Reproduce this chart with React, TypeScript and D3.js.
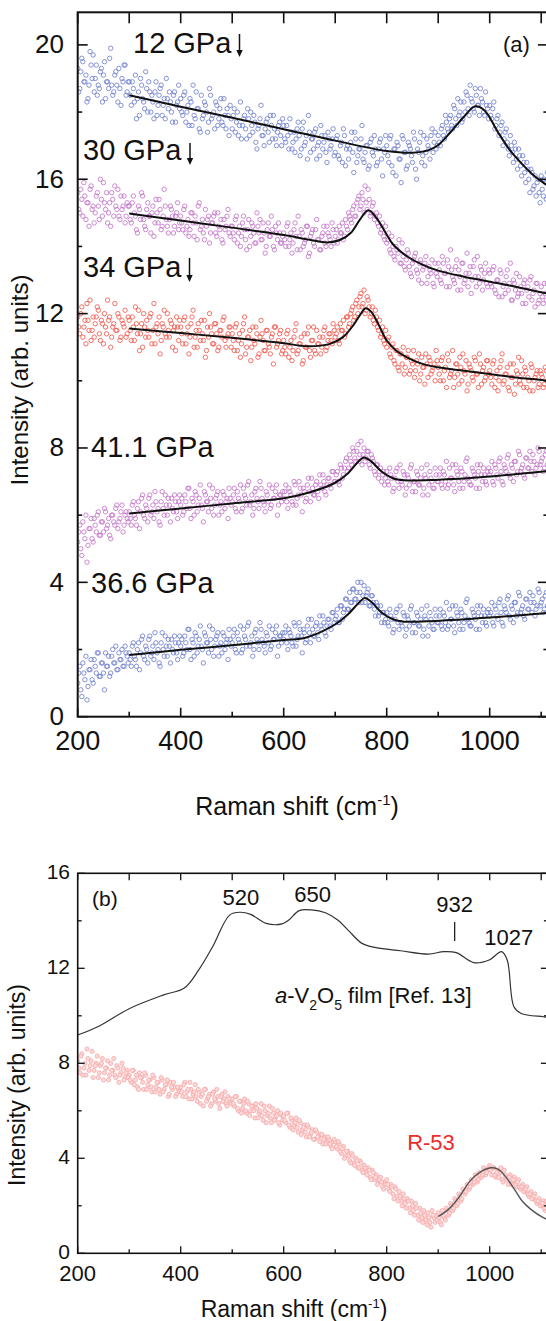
import React from "react";
import * as d3 from "d3";

// ---------- DATA ----------
// Raman shift channels (cm^-1), two interleaved read-outs
const ramanShift = [
  200,204,208,212,216,220,224,228,232,236,240,244,248,252,256,260,264,268,272,276,280,284,288,292,296,
  300,304,308,312,316,320,324,328,332,336,340,344,348,352,356,360,364,368,372,376,380,384,388,392,396,
  400,404,408,412,416,420,424,428,432,436,440,444,448,452,456,460,464,468,472,476,480,484,488,492,496,
  500,504,508,512,516,520,524,528,532,536,540,544,548,552,556,560,564,568,572,576,580,584,588,592,596,
  600,604,608,612,616,620,624,628,632,636,640,644,648,652,656,660,664,668,672,676,680,684,688,692,696,
  700,704,708,712,716,720,724,728,732,736,740,744,748,752,756,760,764,768,772,776,780,784,788,792,796,
  800,804,808,812,816,820,824,828,832,836,840,844,848,852,856,860,864,868,872,876,880,884,888,892,896,
  900,904,908,912,916,920,924,928,932,936,940,944,948,952,956,960,964,968,972,976,980,984,988,992,996,
  1000,1004,1008,1012,1016,1020,1024,1028,1032,1036,1040,1044,1048,1052,1056,1060,1064,1068,1072,1076,1080,1084,1088,1092,1096,
  1100,1104,1108,1112,
];
const ramanShiftB = [
  202,206,210,214,218,222,226,230,234,238,242,246,250,254,258,262,266,270,274,278,282,286,290,294,298,
  302,306,310,314,318,322,326,330,334,338,342,346,350,354,358,362,366,370,374,378,382,386,390,394,398,
  402,406,410,414,418,422,426,430,434,438,442,446,450,454,458,462,466,470,474,478,482,486,490,494,498,
  502,506,510,514,518,522,526,530,534,538,542,546,550,554,558,562,566,570,574,578,582,586,590,594,598,
  602,606,610,614,618,622,626,630,634,638,642,646,650,654,658,662,666,670,674,678,682,686,690,694,698,
  702,706,710,714,718,722,726,730,734,738,742,746,750,754,758,762,766,770,774,778,782,786,790,794,798,
  802,806,810,814,818,822,826,830,834,838,842,846,850,854,858,862,866,870,874,878,882,886,890,894,898,
  902,906,910,914,918,922,926,930,934,938,942,946,950,954,958,962,966,970,974,978,982,986,990,994,998,
  1002,1006,1010,1014,1018,1022,1026,1030,1034,1038,1042,1046,1050,1054,1058,1062,1066,1070,1074,1078,1082,1086,1090,1094,1098,
  1102,1106,1110,
];

const int12GPa = [
  19.3,18.7,19.6,18.9,19.1,18.4,19.8,19.0,18.6,19.4,18.8,19.2,18.3,19.5,18.9,18.7,19.9,18.5,19.1,18.8,19.3,18.2,18.9,19.4,18.6,
  18.9,18.2,18.7,19.1,18.4,17.9,18.8,18.3,19.2,18.0,18.6,18.5,17.8,18.9,18.2,18.7,17.9,18.4,19.0,18.1,18.3,17.7,18.6,18.2,18.8,
  18.4,17.9,18.6,18.0,17.6,18.3,18.8,17.8,18.1,17.5,18.5,17.9,18.2,17.4,18.7,17.8,18.0,18.3,17.6,18.1,17.7,18.4,17.5,17.9,18.2,
  17.5,18.1,17.7,17.3,18.3,17.6,17.9,17.2,17.8,18.0,17.4,17.7,16.9,17.6,18.2,17.3,17.5,17.8,17.1,17.6,17.9,17.2,17.4,17.7,17.0,
  17.6,17.1,17.3,17.8,16.9,17.4,17.2,17.7,16.7,17.5,17.0,17.3,17.9,16.8,17.2,17.4,16.6,17.1,17.6,16.9,17.3,16.5,17.2,17.0,17.5,
  16.8,17.3,16.6,17.1,17.5,16.4,17.0,16.9,17.4,16.2,17.2,16.7,16.9,17.6,16.5,17.0,16.3,17.1,16.8,17.3,16.4,16.9,17.2,16.1,16.8,
  17.0,16.5,17.3,16.2,16.9,17.1,16.6,15.9,17.2,16.8,16.4,17.0,16.7,17.4,16.3,16.9,17.1,16.5,17.3,16.8,17.0,16.6,17.5,17.1,16.9,
  17.3,17.0,17.6,17.2,17.7,17.4,17.9,17.5,18.1,17.6,17.9,18.3,17.8,18.0,18.5,17.9,18.4,18.1,18.7,18.2,17.9,18.4,18.0,18.6,18.1,
  18.2,17.8,18.3,17.6,17.9,17.4,17.7,17.2,17.5,16.9,17.3,16.8,17.1,16.6,16.9,16.4,16.7,16.2,16.5,16.0,16.3,15.7,16.1,15.9,15.6,
  16.1,15.5,15.9,16.2,
];
const int12GPaB = [
  18.6,19.2,19.5,18.9,18.3,18.8,19.4,19.7,19.0,18.5,18.7,19.3,19.1,18.4,18.9,19.6,18.8,18.6,19.2,18.3,18.7,19.0,19.4,18.5,18.9,
  18.5,18.9,18.3,17.8,18.6,19.0,18.4,18.1,18.7,18.9,18.0,18.3,18.6,17.9,18.5,18.8,18.2,17.8,18.4,18.6,18.0,18.5,17.7,18.3,18.1,
  18.0,18.5,17.7,18.2,18.4,17.6,17.9,18.6,18.1,17.4,17.8,18.3,18.0,17.7,18.5,17.9,17.5,18.2,17.8,18.4,17.6,17.9,18.1,17.3,17.8,
  17.9,17.4,18.0,17.6,17.2,17.8,17.5,18.1,17.3,17.6,17.9,17.1,17.5,17.8,17.3,17.0,17.7,17.4,17.9,17.2,17.5,17.0,17.6,17.3,17.8,
  17.2,17.6,16.9,17.4,17.1,16.8,17.5,17.3,16.9,17.7,17.1,16.6,17.4,17.2,16.9,17.5,17.0,16.7,17.3,17.1,16.8,17.4,16.9,17.2,16.7,
  17.2,16.7,17.0,16.5,17.3,16.9,16.6,17.1,16.8,17.4,16.5,16.9,17.2,16.6,16.8,17.0,16.4,17.2,16.7,16.9,16.5,17.1,16.6,16.9,17.3,
  16.7,17.2,16.4,16.9,16.1,17.0,16.6,17.3,16.8,16.3,17.1,16.9,16.5,17.2,16.0,16.8,17.4,16.7,16.4,17.2,16.9,17.3,16.8,17.4,17.0,
  17.1,17.5,17.3,17.9,17.5,17.8,17.6,18.2,17.8,18.4,18.0,17.7,18.3,18.6,18.1,18.8,18.3,18.0,18.5,18.2,18.7,18.3,17.9,18.2,17.8,
  17.9,18.1,17.5,17.8,17.3,17.6,17.0,17.4,17.1,16.7,17.0,16.5,16.9,16.3,16.7,16.1,16.5,15.9,16.3,15.6,16.2,15.8,15.5,16.0,15.3,
  15.7,16.0,15.4,
];

const int30GPa = [
  15.6,15.0,15.4,15.9,14.8,15.3,15.7,15.1,14.7,15.5,15.2,16.0,14.9,15.3,15.6,15.0,14.6,15.4,15.8,15.1,14.9,15.5,15.2,14.7,15.3,
  15.2,14.7,15.5,14.9,14.4,15.1,15.6,14.8,14.5,15.3,14.9,15.0,14.3,15.4,14.7,15.1,14.6,15.7,14.8,14.4,15.2,14.9,14.6,15.0,14.5,
  14.9,14.5,15.2,14.6,14.3,15.0,14.7,14.9,14.2,15.3,14.6,14.4,15.1,14.8,14.1,14.7,14.9,14.4,15.0,14.5,14.2,14.8,14.6,15.1,14.3,
  14.6,14.2,14.9,14.4,14.0,14.7,14.5,13.9,14.8,14.3,14.6,14.1,15.0,14.4,14.2,14.7,13.8,14.5,14.3,14.9,14.0,14.6,14.2,14.4,14.1,
  14.4,14.0,14.7,14.2,13.8,14.5,14.3,14.9,13.9,14.4,14.1,14.6,13.7,14.3,14.5,14.0,14.8,14.2,13.9,14.4,14.1,14.6,14.3,14.0,14.5,
  14.3,14.1,14.6,14.4,14.2,14.8,14.5,14.9,14.7,15.2,14.9,15.4,15.1,15.6,15.0,15.3,15.7,14.9,15.2,14.8,15.0,14.6,14.4,14.7,14.2,
  14.1,14.4,13.8,14.0,13.6,13.9,14.2,13.5,13.7,13.3,13.9,13.4,13.1,13.6,13.8,13.2,13.5,12.9,13.4,13.7,13.1,13.3,13.6,12.8,13.2,
  13.5,13.0,13.7,13.2,12.8,13.4,13.9,13.1,12.9,13.6,13.3,12.7,13.5,13.0,13.8,13.2,12.6,13.4,13.1,13.7,12.9,13.3,13.0,13.5,12.8,
  13.2,12.8,13.4,12.6,13.0,13.3,12.5,12.9,13.1,12.7,13.5,12.4,12.9,13.2,12.6,12.8,12.3,13.0,12.7,12.5,13.1,12.6,12.2,12.9,12.4,
  12.8,12.3,12.6,12.9,
];
const int30GPaB = [
  15.1,15.7,14.9,15.5,15.3,14.6,15.8,15.2,15.0,15.6,14.8,15.4,15.9,15.1,14.7,15.3,15.6,14.9,15.2,15.7,14.8,15.1,15.5,14.9,15.2,
  14.8,15.3,15.0,14.5,15.2,14.8,15.5,14.6,15.1,14.9,14.4,15.2,14.7,15.0,15.4,14.5,14.9,15.2,14.6,14.8,15.1,14.4,14.9,15.3,14.7,
  14.7,15.1,14.4,14.8,14.5,15.0,14.3,14.7,15.2,14.5,14.8,14.2,14.6,14.9,14.4,14.7,15.0,14.3,14.6,14.8,14.1,14.5,14.9,14.4,14.6,
  14.4,14.8,14.1,14.6,14.3,14.9,14.2,14.5,14.0,14.7,14.4,14.1,14.6,14.8,14.2,14.4,14.0,14.7,14.3,14.5,13.9,14.4,14.7,14.1,14.3,
  14.2,14.6,14.0,14.4,14.1,14.7,13.9,14.3,14.5,14.0,14.2,14.6,13.8,14.4,14.1,14.5,14.2,13.9,14.3,14.6,14.0,14.4,14.2,14.7,14.1,
  14.5,14.2,14.4,14.7,14.3,14.6,15.0,14.8,15.1,14.9,15.3,15.5,15.2,15.4,15.8,15.1,15.4,15.0,15.3,14.9,14.7,14.9,14.5,14.3,14.6,
  14.2,13.9,14.3,13.7,14.0,13.8,13.5,14.1,13.4,13.6,13.8,13.2,13.5,13.7,13.3,13.0,13.6,13.3,13.5,12.9,13.4,13.2,12.9,13.5,13.1,
  13.3,12.9,13.5,13.2,13.6,12.8,13.3,13.0,13.4,12.7,13.1,13.5,12.9,13.2,12.8,13.4,13.0,13.6,12.8,13.1,13.4,12.7,13.2,12.9,13.3,
  12.9,13.3,12.7,13.0,12.5,13.2,12.8,12.6,13.3,12.9,12.4,13.0,12.7,12.5,13.1,12.6,12.9,12.3,12.8,13.0,12.4,12.7,12.9,12.3,12.6,
  12.5,12.9,12.4,
];

const int34GPa = [
  11.9,11.4,12.2,11.6,11.1,11.8,12.4,11.5,11.3,11.9,12.1,11.2,11.7,12.0,11.4,11.8,11.0,11.6,12.3,11.5,11.9,11.3,11.7,12.1,11.4,
  11.8,11.2,11.6,12.2,11.4,10.9,11.7,12.0,11.3,11.5,11.9,11.1,12.3,11.6,11.4,10.8,11.7,12.1,11.3,11.5,11.8,11.0,11.6,11.9,11.2,
  11.6,11.1,11.9,11.4,10.8,11.7,12.1,11.3,11.0,11.5,11.8,11.2,10.7,11.6,12.0,11.4,11.1,11.7,10.9,11.5,11.3,11.9,11.0,11.4,11.6,
  11.4,10.9,11.7,11.2,10.7,11.5,11.9,11.0,11.3,10.6,11.6,11.1,11.4,10.8,11.8,11.2,10.9,11.5,11.0,11.3,10.5,11.6,11.1,11.4,10.8,
  11.2,10.8,11.5,11.0,10.6,11.3,11.7,10.9,11.1,10.5,11.4,11.0,11.6,10.7,11.2,10.9,11.5,11.1,10.8,11.3,11.6,11.0,11.4,11.2,11.7,
  11.3,11.6,11.1,11.5,11.8,11.4,11.9,11.7,12.1,11.8,12.3,12.0,12.5,12.2,12.7,12.1,12.4,11.9,12.2,11.7,11.9,11.5,11.3,11.6,11.1,
  11.0,11.3,10.7,11.1,10.5,10.9,10.3,10.8,11.0,10.4,10.7,10.2,10.6,10.9,10.3,10.5,10.0,10.7,10.4,10.8,10.1,10.6,10.3,10.5,10.9,
  10.4,10.0,10.7,10.3,9.8,10.6,10.2,10.9,10.1,10.5,9.9,10.4,10.8,10.2,9.7,10.5,10.3,10.0,10.6,10.2,10.8,9.9,10.4,10.1,10.6,
  10.3,9.9,10.6,10.1,9.7,10.4,10.8,10.0,10.2,9.8,10.5,10.1,9.6,10.3,10.7,9.9,10.2,10.4,9.8,10.0,10.5,9.7,10.1,10.3,9.9,
  10.2,9.8,10.4,10.0,
];
const int34GPaB = [
  11.6,12.0,11.3,11.8,12.3,11.5,11.2,11.9,11.7,12.2,11.4,11.8,11.1,11.6,12.4,11.9,11.3,11.7,11.5,12.0,11.2,11.8,11.6,11.3,11.9,
  11.5,11.9,11.2,11.7,12.1,11.4,11.0,11.6,11.8,11.3,12.0,11.5,11.1,11.7,11.9,11.2,11.6,11.4,12.0,11.3,11.7,11.5,10.9,11.6,11.8,
  11.4,11.8,11.1,11.6,11.3,11.9,11.0,11.5,11.7,11.2,11.4,11.8,10.9,11.3,11.6,11.1,11.7,11.4,11.0,11.5,11.8,11.2,11.3,11.6,11.0,
  11.2,11.6,10.9,11.4,11.1,11.7,10.8,11.3,11.5,11.0,11.2,11.6,10.7,11.3,11.4,10.9,11.5,11.1,10.8,11.4,11.6,11.0,11.2,11.5,10.9,
  11.0,11.4,10.7,11.2,10.9,11.5,10.8,11.1,11.3,10.6,11.0,11.4,10.9,11.2,11.6,10.8,11.1,11.3,11.0,11.5,10.9,11.2,11.4,11.1,11.5,
  11.4,11.2,11.7,11.5,11.3,11.9,11.6,12.0,12.2,11.9,12.4,12.2,12.6,12.3,12.0,12.5,12.2,12.0,11.8,12.1,11.6,11.8,11.4,11.2,11.5,
  11.2,10.8,11.0,10.6,10.9,10.4,10.8,10.5,10.2,10.7,10.9,10.3,10.5,10.1,10.6,10.8,10.2,10.4,9.9,10.5,10.7,10.2,10.4,10.0,10.6,
  10.2,10.6,10.0,10.4,10.8,10.1,10.3,9.8,10.5,10.2,10.7,10.0,10.3,10.6,9.9,10.4,10.1,10.7,10.2,9.8,10.5,10.3,10.0,10.6,10.2,
  10.1,10.5,9.8,10.3,10.0,10.6,9.9,10.2,10.4,9.7,10.1,10.5,9.9,10.2,10.0,10.6,9.8,10.3,10.1,9.7,10.4,10.0,10.2,9.8,10.3,
  10.1,9.9,10.3,
];

const int41GPa = [
  5.2,5.7,4.8,5.5,6.0,5.1,5.6,5.3,5.9,5.5,6.1,5.4,5.8,6.2,5.6,5.9,5.3,6.0,5.7,6.3,5.8,6.1,5.5,6.0,5.9,
  6.1,5.7,6.4,5.9,6.2,5.6,6.5,6.0,6.3,5.8,6.6,6.1,5.9,6.4,6.2,5.7,6.7,6.0,6.3,6.5,5.8,6.2,6.6,6.1,6.4,
  6.3,6.0,6.6,6.2,6.8,5.9,6.4,6.7,6.1,6.5,6.3,5.8,6.6,6.4,6.9,6.2,6.0,6.5,6.7,6.3,6.1,6.6,6.4,5.9,6.5,
  6.4,6.8,6.1,6.5,6.9,6.2,6.6,6.3,7.0,6.4,6.0,6.7,6.5,6.2,6.8,6.4,6.1,6.6,6.9,6.3,6.5,6.7,6.0,6.6,6.4,
  6.5,6.9,6.2,6.7,6.4,7.0,6.3,6.6,6.8,6.1,6.7,6.5,7.1,6.4,6.8,6.6,7.0,6.5,6.9,7.2,6.7,6.9,7.1,6.8,7.3,
  7.0,7.3,6.9,7.4,7.2,7.6,7.3,7.8,7.5,7.9,7.6,8.1,7.8,7.5,8.0,7.7,7.9,7.4,7.7,7.3,7.5,7.1,7.4,7.2,6.9,
  7.3,6.9,7.2,6.7,7.1,7.4,6.8,7.0,7.3,6.6,7.2,6.9,7.5,7.0,6.7,7.2,6.9,7.4,6.8,7.1,6.6,7.3,7.0,6.8,7.2,
  7.0,7.4,6.8,7.2,7.6,6.9,7.1,7.5,6.7,7.3,7.0,7.4,6.8,7.2,7.7,7.0,6.9,7.3,7.1,7.5,6.8,7.2,7.4,7.0,7.3,
  7.2,7.6,6.9,7.4,7.1,7.7,7.0,7.5,7.3,7.8,7.1,7.4,7.6,7.2,7.9,7.3,7.5,7.1,7.7,7.4,7.6,7.8,7.2,7.5,7.9,
  7.6,7.3,7.8,7.5,
];
const int41GPaB = [
  5.5,5.0,5.8,5.3,4.6,5.6,5.9,5.2,5.7,6.0,5.4,5.8,5.5,6.1,5.7,5.4,6.0,5.8,6.2,5.6,5.9,6.3,5.7,6.1,5.8,
  5.9,6.3,6.0,5.7,6.4,6.1,6.6,5.9,6.2,6.5,6.0,6.3,6.7,6.1,5.8,6.4,6.2,6.6,6.0,6.3,6.5,6.1,6.4,5.9,6.6,
  6.5,6.1,6.4,6.8,6.2,6.5,6.0,6.6,6.3,6.9,6.2,6.7,6.4,6.1,6.5,6.8,6.3,6.6,6.0,6.4,6.7,6.2,6.5,6.8,6.3,
  6.6,6.2,6.7,6.4,6.1,6.8,6.5,6.9,6.3,6.6,6.2,6.8,6.4,7.0,6.5,6.3,6.7,6.4,6.2,6.8,6.5,6.9,6.3,6.6,6.7,
  6.7,6.4,6.8,6.6,6.3,6.9,6.5,7.0,6.6,6.8,6.4,6.9,6.7,7.1,6.6,6.9,6.7,7.2,6.8,7.0,6.6,7.1,6.9,7.3,7.0,
  7.2,7.0,7.5,7.1,7.4,7.7,7.4,7.6,8.0,7.7,7.9,7.6,8.2,7.8,7.6,7.9,7.5,7.8,7.6,7.2,7.5,7.3,7.0,7.3,7.1,
  7.0,7.4,7.1,6.8,7.3,7.0,7.5,6.9,7.2,6.8,7.1,7.4,6.7,7.0,7.3,6.9,7.1,6.6,7.2,7.5,6.9,7.1,6.8,7.4,7.0,
  7.2,6.9,7.3,7.0,6.8,7.4,7.1,6.9,7.5,7.2,6.8,7.3,7.0,7.6,7.1,6.9,7.4,7.2,6.8,7.3,7.5,7.0,7.2,6.9,7.4,
  7.3,7.0,7.5,7.2,7.6,7.3,6.9,7.4,7.7,7.2,7.5,7.0,7.6,7.3,7.8,7.4,7.2,7.7,7.4,7.9,7.3,7.6,7.4,8.0,7.5,
  7.7,7.4,7.9,
];

const int36GPa = [
  1.0,1.5,0.6,1.3,1.8,0.9,1.4,1.1,1.7,1.3,1.9,1.2,1.6,0.8,1.5,1.8,1.3,2.0,1.6,1.4,1.9,1.7,1.5,2.1,1.8,
  1.9,1.5,2.2,1.7,2.0,1.4,2.3,1.8,2.1,1.6,2.4,1.9,1.7,2.2,2.0,1.5,2.5,1.8,2.1,2.3,1.6,2.0,2.4,1.9,2.2,
  2.1,1.8,2.4,2.0,2.6,1.7,2.2,2.5,1.9,2.3,2.1,1.6,2.4,2.2,2.7,2.0,1.8,2.3,2.5,2.1,1.9,2.4,2.2,1.7,2.3,
  2.2,2.6,1.9,2.3,2.7,2.0,2.4,2.1,2.8,2.2,1.8,2.5,2.3,2.0,2.6,2.2,1.9,2.4,2.7,2.1,2.3,2.5,1.8,2.4,2.2,
  2.3,2.7,2.0,2.5,2.2,2.8,2.1,2.4,2.6,1.9,2.5,2.3,2.9,2.2,2.6,2.4,2.8,2.3,2.7,3.0,2.5,2.7,2.9,2.6,3.1,
  2.9,3.2,2.8,3.3,3.1,3.5,3.2,3.7,3.4,3.8,3.5,4.0,3.7,3.4,3.9,3.6,3.8,3.3,3.6,3.2,3.4,3.0,3.3,3.1,2.8,
  3.1,2.7,3.0,2.5,2.9,3.2,2.6,2.8,3.1,2.4,3.0,2.7,3.3,2.8,2.5,3.0,2.7,3.2,2.6,2.9,2.4,3.1,2.8,2.6,3.0,
  2.8,3.2,2.6,3.0,3.4,2.7,2.9,3.3,2.5,3.1,2.8,3.2,2.6,3.0,3.5,2.8,2.7,3.1,2.9,3.3,2.6,3.0,3.2,2.8,3.1,
  3.0,3.4,2.7,3.2,2.9,3.5,2.8,3.3,3.1,3.6,2.9,3.2,3.4,3.0,3.7,3.1,3.3,2.9,3.5,3.2,3.4,3.6,3.0,3.3,3.7,
  3.4,3.1,3.6,3.3,
];
const int36GPaB = [
  1.3,0.8,1.6,1.1,0.5,1.4,1.7,1.0,1.5,1.9,1.2,1.6,1.3,1.9,1.5,1.2,1.8,1.6,2.1,1.4,1.7,2.0,1.5,1.9,1.6,
  1.7,2.1,1.8,1.5,2.2,1.9,2.4,1.7,2.0,2.3,1.8,2.1,2.5,1.9,1.6,2.2,2.0,2.4,1.8,2.1,2.3,1.9,2.2,1.7,2.4,
  2.3,1.9,2.2,2.6,2.0,2.3,1.8,2.4,2.1,2.7,2.0,2.5,2.2,1.9,2.3,2.6,2.1,2.4,1.8,2.2,2.5,2.0,2.3,2.6,2.1,
  2.4,2.0,2.5,2.2,1.9,2.6,2.3,2.7,2.1,2.4,2.0,2.6,2.2,2.8,2.3,2.1,2.5,2.2,2.0,2.6,2.3,2.7,2.1,2.4,2.5,
  2.5,2.2,2.6,2.4,2.1,2.7,2.3,2.8,2.4,2.6,2.2,2.7,2.5,2.9,2.4,2.7,2.5,3.0,2.6,2.8,2.4,2.9,2.7,3.1,2.8,
  3.0,2.8,3.3,2.9,3.2,3.5,3.2,3.4,3.8,3.5,3.7,3.4,4.0,3.6,3.4,3.7,3.3,3.6,3.4,3.0,3.3,3.1,2.8,3.1,2.9,
  2.8,3.2,2.9,2.6,3.1,2.8,3.3,2.7,3.0,2.6,2.9,3.2,2.5,2.8,3.1,2.7,2.9,2.4,3.0,3.3,2.7,2.9,2.6,3.2,2.8,
  3.0,2.7,3.1,2.8,2.6,3.2,2.9,2.7,3.3,3.0,2.6,3.1,2.8,3.4,2.9,2.7,3.2,3.0,2.6,3.1,3.3,2.8,3.0,2.7,3.2,
  3.1,2.8,3.3,3.0,3.4,3.1,2.7,3.2,3.5,3.0,3.3,2.8,3.4,3.1,3.6,3.2,3.0,3.5,3.2,3.7,3.1,3.4,3.2,3.8,3.3,
  3.5,3.2,3.7,
];

const intR53 = [
  8.1,7.6,8.4,7.8,7.5,8.2,7.9,8.5,7.7,8.0,7.4,7.9,8.2,7.6,7.8,7.3,8.0,7.7,7.5,7.9,7.2,7.6,7.8,7.4,7.7,
  7.5,7.2,7.7,7.3,7.0,7.6,7.4,6.9,7.5,7.1,7.3,6.8,7.4,7.0,7.2,6.7,7.3,6.9,7.1,6.6,7.2,6.9,7.0,6.7,6.9,
  7.0,6.6,7.2,6.8,6.5,6.9,6.7,7.1,6.4,6.8,6.6,6.2,6.9,6.5,6.7,6.3,6.8,6.4,6.6,6.1,6.7,6.5,6.3,6.6,6.4,
  6.5,6.2,6.6,6.0,6.4,6.1,6.5,5.9,6.3,6.0,6.2,5.7,6.1,5.9,6.3,5.6,6.0,5.8,6.2,5.5,5.9,5.7,6.0,5.4,5.8,
  5.8,5.5,5.9,5.3,5.6,5.4,5.7,5.1,5.5,5.2,5.4,4.9,5.3,5.0,5.2,4.8,5.1,4.9,5.0,4.6,4.9,4.7,4.8,4.5,4.7,
  4.7,4.4,4.6,4.2,4.5,4.1,4.3,3.9,4.2,3.8,4.0,3.6,3.9,3.5,3.7,3.4,3.6,3.2,3.5,3.1,3.3,3.0,3.2,2.8,3.0,
  3.1,2.7,2.9,2.5,2.8,2.4,2.6,2.2,2.5,2.1,2.3,1.9,2.2,1.8,2.1,1.6,1.9,1.5,1.8,1.4,1.7,1.3,1.8,1.5,1.6,
  1.7,1.3,1.8,1.5,1.9,1.6,2.1,1.8,2.3,2.0,2.5,2.2,2.7,2.5,2.9,2.7,3.1,2.9,3.3,3.0,3.4,3.2,3.6,3.3,3.5,
  3.7,3.3,3.6,3.2,3.5,3.4,3.1,3.5,3.2,2.9,3.3,3.0,3.2,2.8,3.1,2.7,2.9,2.6,2.8,2.4,2.6,2.3,2.5,2.1,2.3,
  2.0,2.2,1.8,2.1,
];
const intR53B = [
  7.8,8.3,7.5,8.0,8.6,7.7,8.1,7.4,7.9,8.3,7.6,8.0,7.3,7.8,8.1,7.5,7.7,8.2,7.4,7.8,7.5,8.0,7.3,7.6,7.4,
  7.3,7.7,7.1,7.5,6.9,7.4,7.2,7.6,6.9,7.3,7.0,7.5,6.8,7.2,6.9,7.4,6.8,7.1,7.3,6.7,7.0,7.2,6.6,7.0,6.8,
  6.8,7.1,6.6,6.9,7.2,6.5,6.8,6.6,6.9,6.3,6.7,6.9,6.4,6.6,6.2,6.7,6.5,6.9,6.3,6.6,6.4,6.8,6.2,6.5,6.3,
  6.3,6.6,6.1,6.4,5.9,6.3,6.0,6.4,5.8,6.2,6.0,6.3,5.7,6.0,5.8,6.2,5.5,5.9,5.7,6.1,5.6,5.8,5.5,5.9,5.6,
  5.6,5.9,5.4,5.7,5.2,5.5,5.3,5.6,5.0,5.3,5.1,5.4,4.9,5.1,4.8,5.2,4.9,4.7,5.0,4.8,4.6,4.9,4.6,4.4,4.8,
  4.5,4.7,4.3,4.4,4.0,4.3,4.1,3.8,4.1,3.7,3.9,3.6,3.8,3.4,3.6,3.3,3.5,3.1,3.4,3.2,2.9,3.1,3.0,2.7,2.9,
  2.9,2.6,2.8,2.3,2.7,2.2,2.4,2.0,2.3,1.9,2.2,1.7,2.0,1.6,1.9,1.4,1.7,1.3,1.6,1.2,1.5,1.1,1.6,1.3,1.4,
  1.5,1.2,1.6,1.4,1.8,1.7,2.0,1.9,2.2,2.1,2.4,2.3,2.6,2.6,2.8,2.8,3.0,3.0,3.2,3.1,3.3,3.3,3.5,3.4,3.6,
  3.5,3.6,3.3,3.4,3.2,3.6,3.0,3.3,3.1,3.2,2.9,3.1,2.9,3.0,2.8,2.8,2.6,2.7,2.5,2.5,2.3,2.4,2.2,2.2,2.0,
  2.1,1.9,2.2,
];

// Fit curves
const fit12X = [300,400,500,600,700,800,850,880,900,925,950,972,990,1016,1040,1063,1085,1104,1113];
const fit12Y = [18.5,18.16,17.83,17.49,17.15,16.84,16.79,16.86,17.02,17.42,17.86,18.17,18.05,17.4,16.85,16.45,16.12,15.9,15.82];
const fit30X = [300,400,500,600,650,685,710,730,748,764,780,800,813,840,870,900,950,1000,1050,1104,1113];
const fit30Y = [14.98,14.77,14.56,14.34,14.2,14.12,14.2,14.4,14.8,15.08,14.85,14.35,14.05,13.7,13.45,13.28,13.1,12.95,12.8,12.62,12.6];
const fit34X = [300,400,500,600,644,690,715,735,750,759,770,785,800,820,861,900,950,1000,1050,1104,1113];
const fit34Y = [11.56,11.42,11.28,11.12,11.03,11.1,11.3,11.65,12.0,12.16,12.05,11.65,11.2,10.88,10.55,10.4,10.3,10.2,10.1,10.02,10.0];
const fit41X = [300,400,500,600,644,698,725,745,756,770,790,812,834,894,1000,1104,1113];
const fit41Y = [6.05,6.2,6.35,6.5,6.65,6.95,7.25,7.6,7.72,7.6,7.3,7.1,7.04,7.05,7.15,7.3,7.31];
const fit36X = [300,400,500,600,644,698,725,745,757,770,790,812,834,894,1000,1104,1113];
const fit36Y = [1.84,1.99,2.13,2.28,2.36,2.73,3.05,3.38,3.53,3.42,3.1,2.9,2.83,2.85,2.95,3.08,3.09];

const refFilmX = [200,239,300,367,407,435,462,495,515,536,566,597,610,630,654,681,705,725,752,779,827,881,911,935,969,999,1023,1034,1047,1061,1104,1113];
const refFilmY = [9.19,9.54,10.3,10.88,11.17,11.93,12.91,14.24,14.36,14.27,13.89,13.87,14.03,14.43,14.46,14.34,14.03,13.61,13.05,12.87,12.74,12.6,12.7,12.66,12.24,12.35,12.7,12.35,10.38,10.1,9.96,9.93];

const fitR53X = [900,920,940,962,980,1002,1015,1030,1049,1063,1080,1104,1113];
const fitR53Y = [1.55,1.85,2.35,3.05,3.4,3.6,3.55,3.25,2.66,2.2,1.85,1.5,1.42];

const pressureLabels = ["12 GPa", "30 GPa", "34 GPa", "41.1 GPa", "36.6 GPa"];
const xTicksAll = [200,300,400,500,600,700,800,900,1000,1100];
const xTickLabels = [200,400,600,800,1000];
const yTicksA = [0,2,4,6,8,10,12,14,16,18,20];
const yTickLabelsA = [0,4,8,12,16,20];
const yTicksB = [0,2,4,6,8,10,12,14,16];
const yTickLabelsB = [0,4,8,12,16];
const peakLabels = ["520", "650", "932", "1027"];
const peakPositions = [517, 656, 932, 1037];

// ---------- LAYOUT ----------
const W = 546, H = 1321;
const FONT = "'Liberation Sans', Arial, Helvetica, sans-serif";

const xA = d3.scaleLinear().domain([200, 1113]).range([77.7, 547.9]);
const yA = d3.scaleLinear().domain([0, 20.97]).range([716.7, 12.3]);
const xB = d3.scaleLinear().domain([200, 1113]).range([77.7, 547.9]);
const yB = d3.scaleLinear().domain([0, 16]).range([1253.3, 873.3]);

const blue = "#5a6cc6";
const magenta = "#b95fc0";
const red = "#ef3f30";

function lineD(xs: number[], ys: number[], xs_: any, ys_: any) {
  const g = d3.line<number>().x((_, i) => xs_(xs[i])).y((d) => ys_(d)).curve(d3.curveCatmullRom.alpha(0.5));
  return g(ys) || "";
}

function Arrow({ x, y0, y1 }: { x: number; y0: number; y1: number }) {
  return (
    <g>
      <line x1={x} x2={x} y1={y0} y2={y1 - 3} stroke="#111" strokeWidth={1.5} />
      <path d={`M${x - 3.2},${y1 - 7} L${x},${y1} L${x + 3.2},${y1 - 7} Z`} fill="#111" />
    </g>
  );
}

export default function App() {
  const seriesA = [
    { a: int12GPa, b: int12GPaB, color: blue },
    { a: int30GPa, b: int30GPaB, color: magenta },
    { a: int34GPa, b: int34GPaB, color: red },
    { a: int41GPa, b: int41GPaB, color: magenta },
    { a: int36GPa, b: int36GPaB, color: blue },
  ];
  const fitsA = [
    [fit12X, fit12Y], [fit30X, fit30Y], [fit34X, fit34Y], [fit41X, fit41Y], [fit36X, fit36Y],
  ];
  const [ax0, ax1] = xA.range();
  const [ay0, ay1] = yA.range();
  const [bx0, bx1] = xB.range();
  const [by0, by1] = yB.range();

  return (
    <svg width={W} height={H} style={{ position: "absolute", left: 0, top: 0, background: "#fff" }} fontFamily={FONT}>
      <defs>
        <clipPath id="clipA"><rect x={ax0} y={ay1} width={ax1 - ax0} height={ay0 - ay1} /></clipPath>
        <clipPath id="clipB"><rect x={bx0} y={by1} width={bx1 - bx0} height={by0 - by1} /></clipPath>
      </defs>
      <rect x={0} y={0} width={W} height={H} fill="#fff" />

      {/* ---------- Panel (a) ---------- */}
      <g clipPath="url(#clipA)">
        {seriesA.map((s, si) => (
          <g key={si} fill="none" stroke={s.color} strokeWidth={0.85} opacity={0.85}>
            {s.a.map((v, i) => (
              <circle key={"a" + i} cx={xA(ramanShift[i])} cy={yA(v)} r={2.2} />
            ))}
            {s.b.map((v, i) => (
              <circle key={"b" + i} cx={xA(ramanShiftB[i])} cy={yA(v)} r={2.2} />
            ))}
          </g>
        ))}
        {fitsA.map(([xs, ys], i) => (
          <path key={i} d={lineD(xs, ys, xA, yA)} fill="none" stroke="#111" strokeWidth={2} />
        ))}
      </g>
      <rect x={ax0} y={ay1} width={ax1 - ax0} height={ay0 - ay1} fill="none" stroke="#111" strokeWidth={2} />
      {xTicksAll.map((v) => {
        const major = v % 200 === 0;
        return (
          <g key={v} stroke="#111" strokeWidth={1.6}>
            <line x1={xA(v)} x2={xA(v)} y1={ay0} y2={ay0 - (major ? 9 : 5)} />
            <line x1={xA(v)} x2={xA(v)} y1={ay1} y2={ay1 + 11} />
          </g>
        );
      })}
      {yTicksA.map((v) => {
        const major = v % 4 === 0;
        const len = major ? 10 : 4.5;
        return (
          <g key={v} stroke="#111" strokeWidth={1.6}>
            <line x1={ax0} x2={ax0 + len} y1={yA(v)} y2={yA(v)} />
            <line x1={ax1} x2={ax1 - len} y1={yA(v)} y2={yA(v)} />
          </g>
        );
      })}
      {xTickLabels.map((v) => (
        <text key={v} x={xA(v)} y={750} fontSize={27} textAnchor="middle" fill="#111">{v}</text>
      ))}
      {yTickLabelsA.map((v) => (
        <text key={v} x={64} y={yA(v) + 8.5} fontSize={26} textAnchor="end" fill="#111">{v}</text>
      ))}
      <text x={297} y={815} fontSize={25} textAnchor="middle" fill="#111">
        Raman shift (cm<tspan dy={-10} fontSize={15}>-1</tspan><tspan dy={10}>)</tspan>
      </text>
      <text transform="translate(28,380) rotate(-90)" fontSize={24} textAnchor="middle" fill="#111">Intensity (arb. units)</text>
      <text x={503} y={52} fontSize={22} fill="#111">(a)</text>

      <text x={133} y={53} fontSize={29} fill="#111">{pressureLabels[0]}</text>
      <Arrow x={239.5} y0={34} y1={57} />
      <text x={83} y={160} fontSize={29} fill="#111">{pressureLabels[1]}</text>
      <Arrow x={190} y0={143} y1={165} />
      <text x={83} y={277} fontSize={29} fill="#111">{pressureLabels[2]}</text>
      <Arrow x={189.5} y0={258} y1={282} />
      <text x={91} y={457} fontSize={29} fill="#111">{pressureLabels[3]}</text>
      <text x={91} y={593} fontSize={29} fill="#111">{pressureLabels[4]}</text>

      {/* ---------- Panel (b) ---------- */}
      <g clipPath="url(#clipB)">
        <g fill="#fcd8d8" stroke="#f4a0a0" strokeWidth={0.7}>
          {intR53.map((v, i) => (
            <circle key={"a" + i} cx={xB(ramanShift[i])} cy={yB(v)} r={2.1} />
          ))}
          {intR53B.map((v, i) => (
            <circle key={"b" + i} cx={xB(ramanShiftB[i])} cy={yB(v)} r={2.1} />
          ))}
        </g>
        <path d={lineD(refFilmX, refFilmY, xB, yB)} fill="none" stroke="#333" strokeWidth={1.2} />
        <path d={lineD(fitR53X, fitR53Y, xB, yB)} fill="none" stroke="#555" strokeWidth={1.4} />
      </g>
      <rect x={bx0} y={by1} width={bx1 - bx0} height={by0 - by1} fill="none" stroke="#111" strokeWidth={1.6} />
      {xTicksAll.map((v) => {
        const major = v % 200 === 0;
        return (
          <g key={v} stroke="#111" strokeWidth={1.3}>
            <line x1={xB(v)} x2={xB(v)} y1={by0} y2={by0 - (major ? 7 : 4)} />
            <line x1={xB(v)} x2={xB(v)} y1={by1} y2={by1 + 7} />
          </g>
        );
      })}
      {yTicksB.map((v) => {
        const major = v % 4 === 0;
        const len = major ? 7 : 4;
        return (
          <g key={v} stroke="#111" strokeWidth={1.3}>
            <line x1={bx0} x2={bx0 + len} y1={yB(v)} y2={yB(v)} />
            <line x1={bx1} x2={bx1 - len} y1={yB(v)} y2={yB(v)} />
          </g>
        );
      })}
      {xTickLabels.map((v) => (
        <text key={v} x={xB(v)} y={1281} fontSize={22} textAnchor="middle" fill="#111">{v}</text>
      ))}
      {yTickLabelsB.map((v) => (
        <text key={v} x={70} y={yB(v) + 6} fontSize={21} textAnchor="end" fill="#111">{v}</text>
      ))}
      <text x={294} y={1317} fontSize={23} textAnchor="middle" fill="#111">
        Raman shift (cm<tspan dy={-9} fontSize={13}>-1</tspan><tspan dy={9}>)</tspan>
      </text>
      <text transform="translate(25,1085) rotate(-90)" fontSize={23} textAnchor="middle" fill="#111">Intensity (arb. units)</text>
      <text x={92} y={906} fontSize={21} fill="#111">(b)</text>
      {peakLabels.map((t, i) => (
        <text key={t} x={xB(peakPositions[i])} y={[905, 902, 912, 945][i]} fontSize={22} textAnchor="middle" fill="#111">{t}</text>
      ))}
      <line x1={xB(932)} x2={xB(932)} y1={922} y2={941} stroke="#111" strokeWidth={1.2} />
      <text x={275} y={1003} fontSize={22} fill="#111">
        <tspan fontStyle="italic">a</tspan>-V<tspan dy={7} fontSize={14}>2</tspan><tspan dy={-7}>O</tspan><tspan dy={7} fontSize={14}>5</tspan><tspan dy={-7}> film [Ref. 13]</tspan>
      </text>
      <text x={431} y={1150} fontSize={22} textAnchor="middle" fill="#ee2b2b">R-53</text>
    </svg>
  );
}
